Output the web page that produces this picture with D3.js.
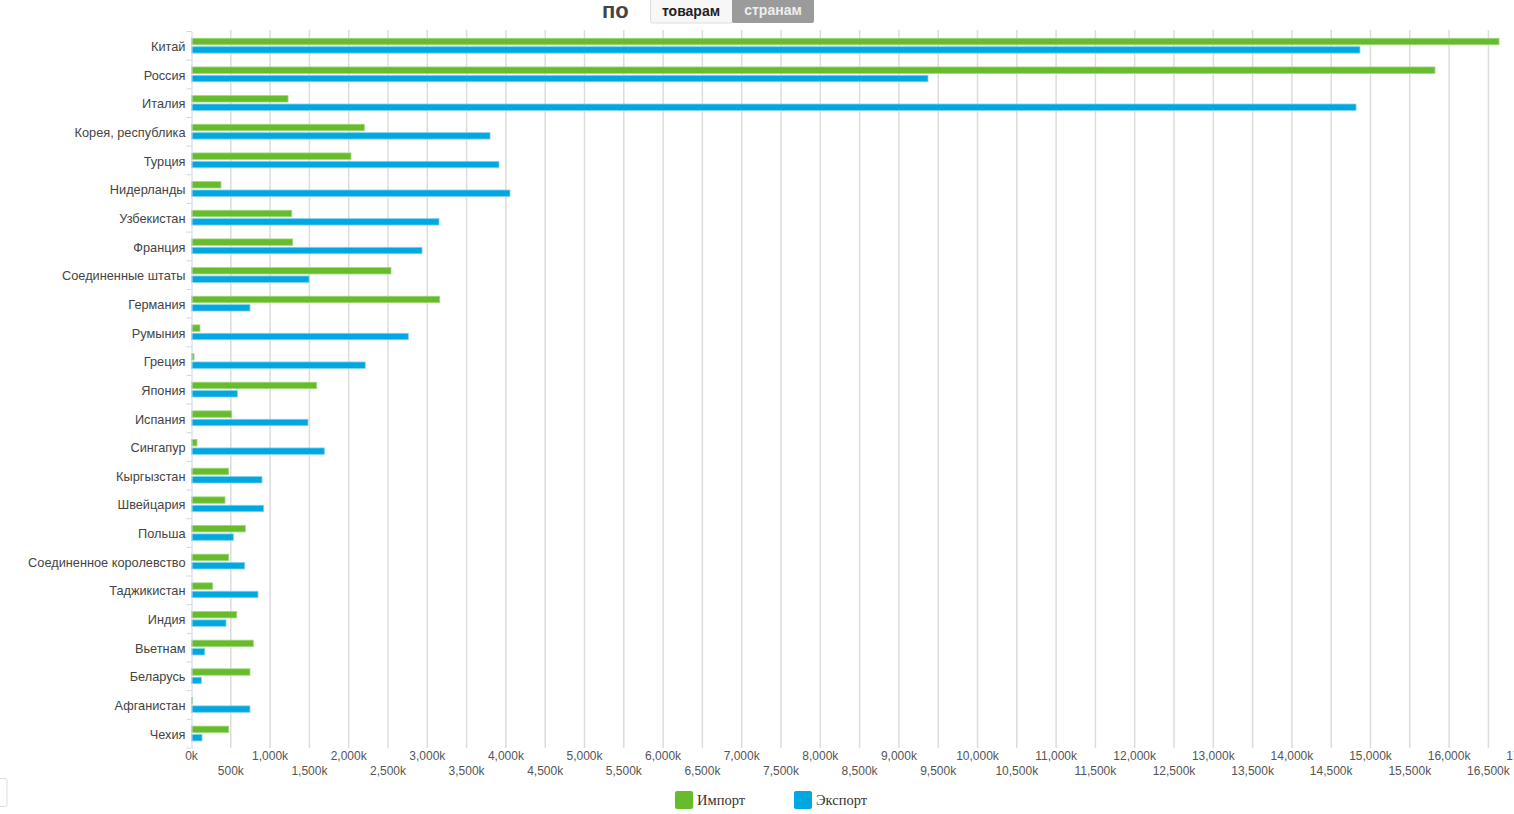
<!DOCTYPE html>
<html>
<head>
<meta charset="utf-8">
<script src="https://cdn.jsdelivr.net/npm/d3@7"></script>
<style>
body { margin: 0; background: #fff; overflow: hidden; }
svg { display: block; }
</style>
</head>
<body>
<svg id="chart" width="1514" height="814"></svg>
<script>
// страны и значения (тыс.)
var countries = ['Китай','Россия','Италия','Корея, республика','Турция','Нидерланды','Узбекистан','Франция',
  'Соединенные штаты','Германия','Румыния','Греция','Япония','Испания','Сингапур','Кыргызстан','Швейцария',
  'Польша','Соединенное королевство','Таджикистан','Индия','Вьетнам','Беларусь','Афганистан','Чехия'];
var importVals = [16635,15820,1228,2199,2029,375,1275,1287,2538,3158,108,32,1593,511,70,473,426,685,473,269,575,786,744,15,473];
var exportVals = [14866,9370,14816,3798,3912,4052,3149,2933,1495,744,2758,2211,583,1482,1690,897,918,532,677,846,439,168,125,744,134];
var seriesNames = ['Импорт','Экспорт'];
var tickVals = d3.range(0, 17001, 500);

var svg = d3.select('#chart');
var plotLeft = 191.5, plotTop = 31.5, plotBottom = 748;
var green = '#67bc2c', blue = '#00a7e1';

var x = d3.scaleLinear().domain([0, 17000]).range([plotLeft, plotLeft + 17000 * 0.0786]);
var y = d3.scaleBand().domain(countries).range([plotTop, plotBottom]).paddingInner(0).paddingOuter(0);

// grid
svg.append('g').selectAll('line').data(tickVals.slice(1)).enter().append('line')
  .attr('x1', function(d){ return x(d); }).attr('x2', function(d){ return x(d); })
  .attr('y1', 30).attr('y2', plotBottom)
  .attr('stroke', '#dcdcdc').attr('stroke-width', 1.5);

// bars
var g = svg.append('g');
countries.forEach(function(c, i) {
  var y0 = y(c);
  g.append('rect').attr('x', x(0)).attr('y', y0 + 6.8)
    .attr('width', x(importVals[i]) - x(0)).attr('height', 6.4)
    .attr('fill', green).attr('stroke', '#9fd67a').attr('stroke-width', 0.8);
  g.append('rect').attr('x', x(0)).attr('y', y0 + 15.2)
    .attr('width', x(exportVals[i]) - x(0)).attr('height', 6.4)
    .attr('fill', blue).attr('stroke', '#7fd0ef').attr('stroke-width', 0.8);
});

// left axis
var yAxis = svg.append('g').attr('transform', 'translate(' + plotLeft + ',1)')
  .call(d3.axisLeft(y).tickSize(0).tickPadding(6));
yAxis.select('.domain').attr('stroke', '#ccd6eb').attr('transform', 'translate(0,-1)');
yAxis.selectAll('text').attr('font-family', 'Liberation Sans, Arial, sans-serif')
  .attr('font-size', 12.75).attr('fill', '#444');
svg.append('g').selectAll('line').data(countries.concat(['end'])).enter().append('line')
  .attr('x1', plotLeft - 5).attr('x2', plotLeft)
  .attr('y1', function(d){ return d === 'end' ? plotBottom : y(d); })
  .attr('y2', function(d){ return d === 'end' ? plotBottom : y(d); })
  .attr('stroke', '#ccd6eb');

// bottom tick labels, staggered
svg.append('g').selectAll('text').data(tickVals).enter().append('text')
  .attr('x', function(d){ return x(d); })
  .attr('y', function(d, i){ return i % 2 === 0 ? 760 : 775; })
  .attr('text-anchor', 'middle')
  .attr('font-family', 'Liberation Sans, Arial, sans-serif').attr('font-size', 12).attr('fill', '#555')
  .text(function(d){ return d3.format(',')(d) + 'k'; });

// header
svg.append('text').attr('x', 602).attr('y', 18).attr('font-family', 'Liberation Sans, Arial, sans-serif')
  .attr('font-size', 22).attr('font-weight', 'bold').attr('fill', '#444').text('по');
svg.append('rect').attr('x', 650.5).attr('y', -4).attr('width', 82).attr('height', 27).attr('rx', 2)
  .attr('fill', '#f7f7f7').attr('stroke', '#ddd');
svg.append('text').attr('x', 691).attr('y', 16).attr('text-anchor', 'middle')
  .attr('font-family', 'Liberation Sans, Arial, sans-serif').attr('font-size', 14).attr('font-weight', 'bold')
  .attr('fill', '#222').text('товарам');
svg.append('rect').attr('x', 732).attr('y', -4).attr('width', 82).attr('height', 27).attr('rx', 2)
  .attr('fill', '#9b9b9b');
svg.append('text').attr('x', 773).attr('y', 15).attr('text-anchor', 'middle')
  .attr('font-family', 'Liberation Sans, Arial, sans-serif').attr('font-size', 14).attr('font-weight', 'bold')
  .attr('fill', '#eee').text('странам');

// legend
var legX = [675, 794], legC = [green, blue];
seriesNames.forEach(function(n, i) {
  svg.append('rect').attr('x', legX[i]).attr('y', 791).attr('width', 18).attr('height', 18).attr('rx', 2)
    .attr('fill', legC[i]);
  svg.append('text').attr('x', legX[i] + 22).attr('y', 805)
    .attr('font-family', 'Liberation Serif, Times New Roman, serif').attr('font-size', 14.5).attr('fill', '#333')
    .text(n);
});

// small control at bottom-left
svg.append('rect').attr('x', -3).attr('y', 778.5).attr('width', 10).attr('height', 28).attr('rx', 2)
  .attr('fill', '#fff').attr('stroke', '#ddd');
</script>
</body>
</html>
